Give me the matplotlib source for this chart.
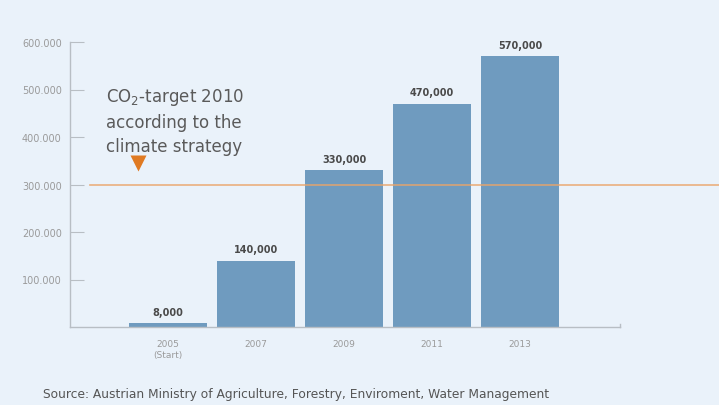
import matplotlib
matplotlib.use("Agg")
from matplotlib import pyplot as plt

years = ["2005\n(Start)", "2007", "2009", "2011", "2013"]
values = [8000, 140000, 330000, 470000, 570000]
value_labels = ["8,000", "140,000", "330,000", "470,000", "570,000"]
yticks = [100000, 200000, 300000, 400000, 500000, 600000]
ytick_labels = ["100.000", "200.000", "300.000", "400.000", "500.000", "600.000"]
target = 300000

bg = "#eaf2fa"
bar_col = "#6f9bbf"
orange = "#e07a22"

fig = plt.figure(figsize=(7.19, 4.06), dpi=100, facecolor=bg)
ax = fig.add_axes([70/719, 78/406, 550/719, 285/406], facecolor=bg)

x = list(range(len(values)))
ax.bar(x, values, width=0.886, color=bar_col, zorder=2)
for xi, v, lab in zip(x, values, value_labels):
    ax.text(xi, v + 14000, lab, ha="center", va="bottom", fontsize=7,
            fontweight="bold", color="#4a4a4a")

ax.set_xlim(-1.114, 5.136)
ax.set_ylim(0, 600000)

# target line runs past the axes to the right edge
ax.plot([-0.886, 6.3], [target, target], color="#eba468", lw=1.2,
        alpha=0.85, zorder=3, clip_on=False)
ax.plot([-0.34], [target + 46000], marker="v", ms=11, color=orange,
        mec="none", zorder=4)
ax.text(-0.705, 435000, "CO$_2$-target 2010\naccording to the\nclimate strategy",
        fontsize=12, color="#5a5a5a", va="center", ha="left",
        linespacing=1.45)

for s in ["top", "right"]:
    ax.spines[s].set_visible(False)
for s in ["left", "bottom"]:
    ax.spines[s].set_color("#b8bec4")
    ax.spines[s].set_linewidth(1.0)
ax.plot([5.136, 5.136], [0, 6000], color="#b8bec4", lw=1.0, clip_on=False)

ax.set_yticks(yticks, ytick_labels)
ax.set_xticks(x, years)
ax.tick_params(axis="y", direction="in", length=10, width=0.8, color="#b8bec4",
               labelsize=7, labelcolor="#9a9a9a", pad=6)
ax.tick_params(axis="x", length=0, labelsize=6.5, labelcolor="#9a9a9a", pad=9)

fig.text(43/719, 1 - 395/406,
         "Source: Austrian Ministry of Agriculture, Forestry, Enviroment, Water Management",
         fontsize=8.8, color="#555555", va="center", ha="left")

fig.savefig("out.png", dpi=100, facecolor=bg)
